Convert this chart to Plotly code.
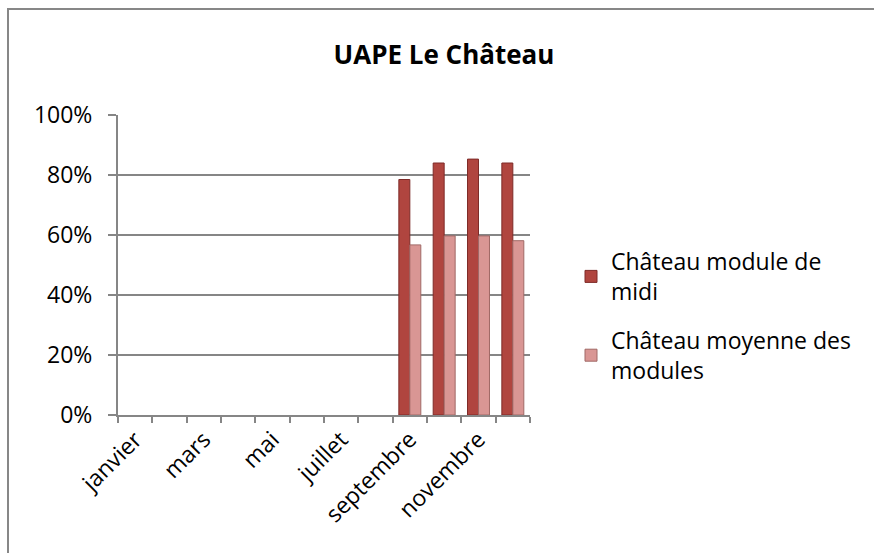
import plotly.graph_objects as go

months = ["janvier", "février", "mars", "avril", "mai", "juin", "juillet",
          "août", "septembre", "octobre", "novembre", "décembre"]
tick_labels = ["janvier", "", "mars", "", "mai", "", "juillet", "",
               "septembre", "", "novembre", ""]
midi = [None, None, None, None, None, None, None, None, 0.785, 0.84, 0.853, 0.84]
moyenne = [None, None, None, None, None, None, None, None, 0.567, 0.597, 0.597, 0.581]
series_names = ["Château module de<br>midi", "Château moyenne des<br>modules"]

FONT = "Open Sans"
FS = 23
W, H = 874, 553
L, R, T, B = 118, 344, 115, 138
pw, ph = W - L - R, H - T - B

fig = go.Figure()
fig.add_trace(go.Bar(x=months, y=midi, name=series_names[0], legendgroup="a",
                     marker=dict(color="#B0453F", line=dict(color="#7E2B28", width=1))))
fig.add_trace(go.Bar(x=months, y=moyenne, name=series_names[1], legendgroup="b",
                     marker=dict(color="#D99694", line=dict(color="#A06966", width=1))))

def px_x(p):
    return (p - L) / pw

def px_y(p):
    return (H - B - p) / ph

fig.update_layout(
    width=W, height=H,
    margin=dict(l=L, r=R, t=T, b=B),
    paper_bgcolor="white", plot_bgcolor="white",
    barmode="group", bargap=0.36, bargroupgap=0.0,
    font=dict(family=FONT, size=FS, color="#000000"),
    title=dict(text="<b>UAPE Le Château</b>", x=(444) / W, xanchor="center",
               y=1 - 55 / H, yanchor="middle",
               font=dict(family=FONT, size=26, color="#000000")),
    showlegend=True,
    legend=dict(x=px_x(571), y=px_y(240), xanchor="left", yanchor="top",
                font=dict(family=FONT, size=FS), tracegroupgap=16,
                bgcolor="rgba(0,0,0,0)"),
    xaxis=dict(type="category", categoryorder="array", categoryarray=months,
               tickmode="array", tickvals=months, ticktext=tick_labels,
               tickangle=-45, tickson="boundaries", ticks="outside", ticklen=6,
               tickcolor="#868686", tickwidth=2,
               showline=True, linecolor="#868686", linewidth=2,
               showgrid=False, zeroline=False,
               tickfont=dict(family=FONT, size=FS)),
    yaxis=dict(range=[0, 1], tickformat=".0%", dtick=0.2,
               ticks="outside", ticklen=8, tickcolor="#868686", tickwidth=2,
               ticklabelstandoff=11,
               showline=True, linecolor="#868686", linewidth=2,
               showgrid=True, gridcolor="#868686", gridwidth=2,
               zeroline=False, tickfont=dict(family=FONT, size=FS)),
    shapes=[dict(type="rect", xref="paper", yref="paper",
                 x0=px_x(8), x1=px_x(890), y0=px_y(570), y1=px_y(9),
                 line=dict(color="#878787", width=2), fillcolor="rgba(0,0,0,0)",
                 layer="below")],
)

fig.write_html("out.html", config={"displayModeBar": False},
               post_script="document.body.style.margin='0';document.body.style.padding='0';")
